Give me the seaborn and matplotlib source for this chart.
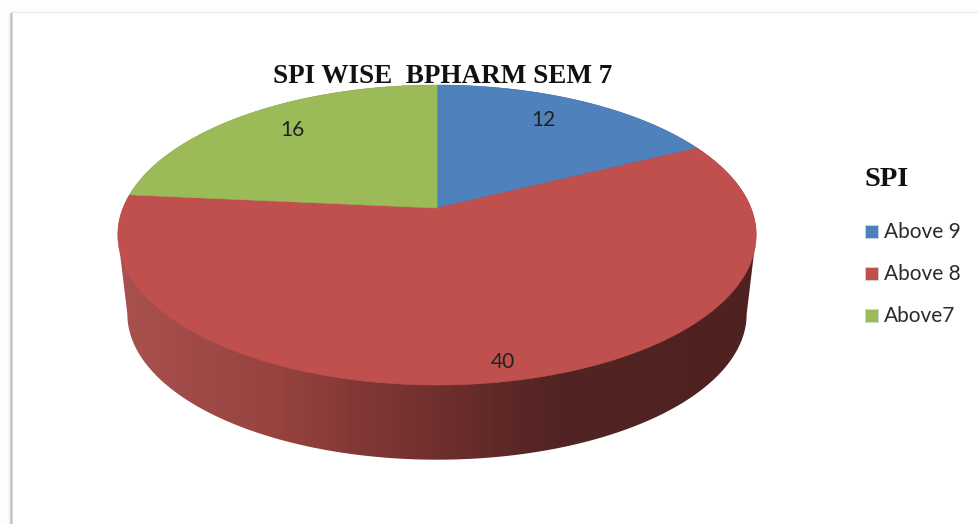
import numpy as np
import matplotlib
matplotlib.use("Agg")
import matplotlib.pyplot as plt
from matplotlib.patches import Rectangle, Polygon
from matplotlib.colors import LinearSegmentedColormap
import seaborn as sns

categories = ["Above 9", "Above 8", "Above7"]
values = [12, 40, 16]
slice_colors = ["#4F81BD", "#C0504D", "#9BBB59"]
title_text = "SPI WISE  BPHARM SEM 7"
legend_title = "SPI"

sns.set_theme(style="white")
palette = sns.color_palette(slice_colors)

fig = plt.figure(figsize=(9.79, 5.24), dpi=100, facecolor="#fdfdfd")
ax = fig.add_axes([0, 0, 1, 1])
ax.set_xlim(0, 979)
ax.set_ylim(524, 0)
ax.axis("off")

# paper with shadow
ax.add_patch(Rectangle((12, 13), 970, 520, fc="white", ec="none", zorder=0))
for x0, c, w in [(9.5, "#f0f0f0", 1), (10.5, "#d4d4d4", 1), (11.5, "#bdbdbd", 1), (12.5, "#dcdcdc", 1)]:
    ax.add_patch(Rectangle((x0, 13), w, 520, fc=c, ec="none", zorder=1))
ax.add_patch(Rectangle((11, 12), 968, 1, fc="#e6e6e6", ec="none", zorder=1))

# projected pie geometry
CX, CY, R, K, B = 437.0, 208.0, 314.0, 0.18, -107.7
BOTTOM_SCALE, DEPTH = 0.97, 80.0


def top_rim(theta):
    X, Y = np.sin(theta), np.cos(theta)
    w = 1 + K * Y
    return CX + R * X / w, (CY + B * Y) / w


def bottom_rim(theta):
    x, y = top_rim(theta)
    return CX + BOTTOM_SCALE * (x - CX), CY + BOTTOM_SCALE * (y - CY) + DEPTH


edges = np.cumsum([0] + values) / sum(values) * 2 * np.pi

# side wall of the large slice with a left-to-right shading, clipped to the silhouette
wall_cmap = LinearSegmentedColormap.from_list(
    "wall",
    [(0.0, "#A9514F"), (0.25, "#97433F"), (0.36, "#853937"), (0.5, "#6F2F2E"),
     (0.68, "#522423"), (1.0, "#4F2221")],
)
right_ext = np.arccos(-K)
left_ext = 2 * np.pi - right_ext
th_low = np.linspace(right_ext, left_ext, 400)
th_up = np.linspace(left_ext, 2 * np.pi + right_ext, 400)
xb, yb = bottom_rim(th_low)
xt, yt = top_rim(th_up)
outline = Polygon(np.column_stack([np.r_[xb, xt], np.r_[yb, yt]]),
                  fc="none", ec="none", transform=ax.transData)
ax.add_patch(outline)
grad = ax.imshow(np.linspace(0, 1, 640)[None, :], cmap=wall_cmap, aspect="auto",
                 extent=(118, 758, 480, 80), zorder=2, interpolation="bilinear")
grad.set_clip_path(outline)
ax.set_xlim(0, 979)
ax.set_ylim(524, 0)

# top faces
for i in range(len(values)):
    t = np.linspace(edges[i], edges[i + 1], 300)
    xs, ys = top_rim(t)
    pts = np.column_stack([np.r_[CX, xs], np.r_[CY, ys]])
    ax.add_patch(Polygon(pts, fc=palette[i], ec=palette[i], lw=0.4, zorder=3))

# value labels
label_pos = [(543, 119.5), (503, 361.5), (292, 129.5)]
for v, (lx, ly) in zip(values, label_pos):
    ax.text(lx, ly, str(v), ha="center", va="center", fontsize=15,
            family="Lato", color="#1f2320", zorder=5)

# title
ax.text(443, 76.5, title_text, ha="center", va="center", fontsize=19.5,
        family="Liberation Serif", weight="bold", color="#111111", zorder=6)

# legend
ax.text(865, 180, legend_title, ha="left", va="center", fontsize=20.5,
        family="Liberation Serif", weight="bold", color="#111111")
for name, c, y in zip(categories, palette, [225, 267, 309]):
    ax.add_patch(Rectangle((865, y), 13, 13, fc=c, ec="#d5dbe3", lw=0.5))
    ax.text(884, y + 7, name, ha="left", va="center", fontsize=15,
            family="Lato", color="#2b2b2b")

fig.savefig("out.png", dpi=100, facecolor=fig.get_facecolor())
